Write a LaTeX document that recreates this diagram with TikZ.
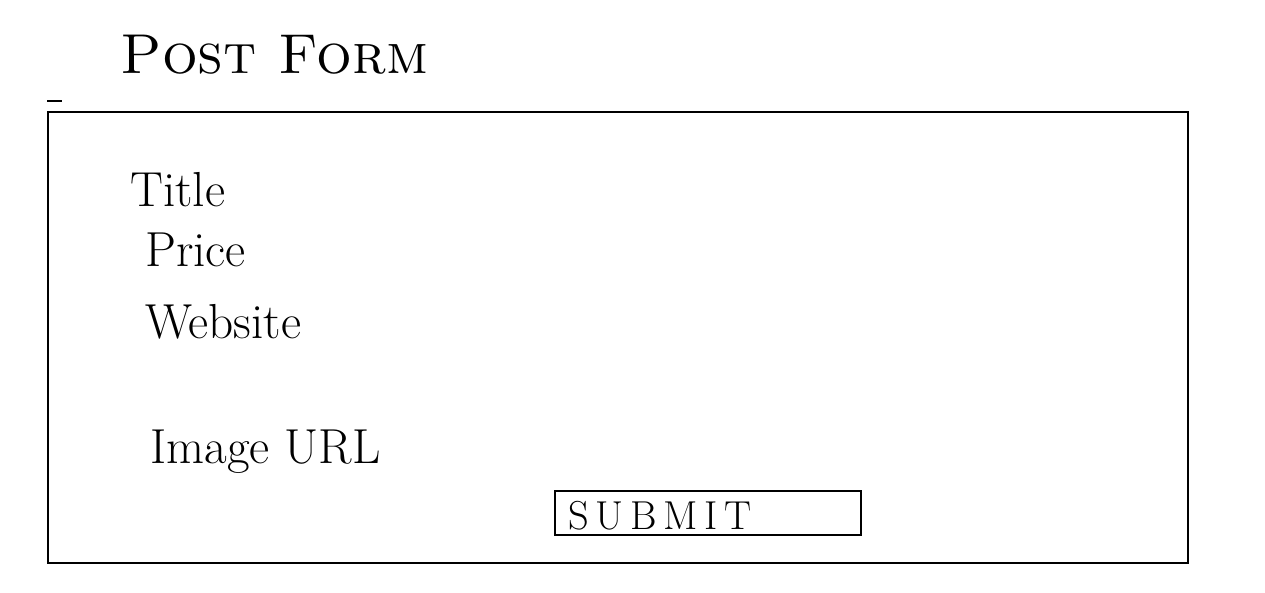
\documentclass[tikz,border=0pt]{standalone}
\usepackage{tikz}
\usetikzlibrary{positioning}

\begin{document}
\begin{tikzpicture}[
    x=0.02cm, y=-0.02cm,
    frame/.style={rectangle, draw=black, line width=1.1pt, inner sep=0pt},
    field/.style={anchor=west, inner sep=0pt, font=\fontsize{28}{30}\selectfont},
    heading/.style={anchor=west, inner sep=0pt, font=\fontsize{32}{36}\selectfont\scshape}
]
\useasboundingbox (0,0) rectangle (1265,592);

\node[heading] (head) at (120,55) {Post Form};
\coordinate (tickA) at (47,101);
\coordinate (tickB) at (62,101);
\draw[line width=1.1pt] (tickA) -- (tickB);

\node[frame, minimum width=1140*0.02cm, minimum height=451*0.02cm] (form) at (618,337.5) {};

\node[field] (title) at (130,190) {Title};
\node[field] (price) at (145,250) {Price};
\node[field] (website) at (145,322) {Website};
\node[field] (image) at (150,452) {Image URL};

\node[frame, minimum width=306*0.02cm, minimum height=44*0.02cm] (submit) at (708,513) {};
\node[field, font=\fontsize{23}{25}\selectfont] (submitlabel) at (568,516) {S\,U\,B\,M\,I\,T};

\end{tikzpicture}
\end{document}
